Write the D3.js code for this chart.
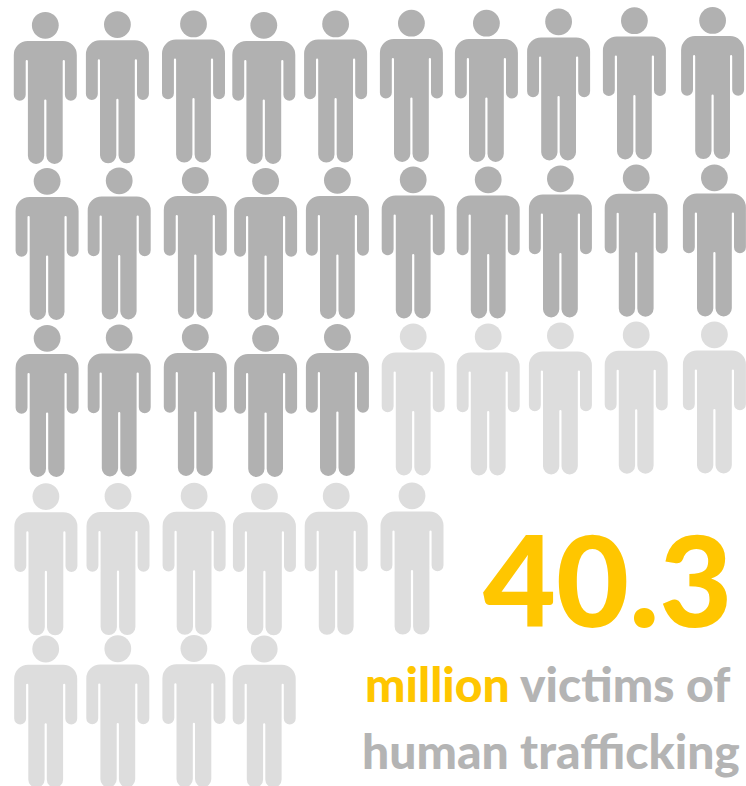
<!DOCTYPE html>
<html>
<head>
<meta charset="utf-8">
<script src="https://cdn.jsdelivr.net/npm/d3@7/dist/d3.min.js"></script>
<style>
  html, body { margin: 0; padding: 0; background: #fff; }
  svg { display: block; }
  text { font-family: Lato, "Open Sans", sans-serif; font-weight: 900; }
</style>
</head>
<body>
<svg id="chart" width="746" height="786"></svg>
<script>
// Each figure stands for one million people; the two tones split the total.
const groups = ["first", "second"];
const groupCounts = [25, 15];
const rowLengths = [10, 10, 10, 6, 4];
const headline = "40.3";
const unitLabel = "million";
const lineOneRest = "victims of";
const lineTwo = "human trafficking";

const width = 746, height = 786;
const svg = d3.select("#chart").attr("viewBox", [0, 0, width, height]);

// Pictogram grid: hand-spaced columns and rows, set as ordinal scales.
const columnIds = d3.range(10);
const rowIds = d3.range(rowLengths.length);
const columnX = d3.scaleOrdinal(columnIds, [46.3, 118.4, 194.5, 264.8, 336.6, 412.4, 487.4, 559.6, 635.4, 713.6]);
const columnLift = d3.scaleOrdinal(columnIds, [0, -0.5, -1, 0, -1, -1.5, -1.5, -2.5, -3.3, -3.5]);
const rowTop = d3.scaleOrdinal(rowIds, [12, 168, 325, 483.3, 635.7]);
const rowLiftFactor = d3.scaleOrdinal(rowIds, [1.4, 1, 1, 0.5, 0.5]);
const rowNudge = d3.scaleOrdinal(rowIds, [-1, 0.8, 0.8, -0.4, -0.6]);
const tone = d3.scaleOrdinal(groups, ["#b1b1b1", "#dddddd"]);

// Flatten rows into figures, handing out the groups in reading order.
const groupOfIndex = groups.flatMap((g, i) => d3.range(groupCounts[i]).map(() => g));
let running = 0;
const figures = rowLengths.flatMap((len, row) => d3.range(len).map(col => ({
  row, col, group: groupOfIndex[running++]
})));

// One person glyph, origin at the top of the head on the centre line.
function personBody() {
  const p = d3.path();
  const top = 29, half = 31.5, armIn = 19.6, torso = 17.4, gap = 1.1;
  const armpit = 48, armEnd = 88.7, crotch = 87.5, foot = 152;
  const armR = (half - armIn) / 2, legR = (torso - gap) / 2, cornerR = 14;
  const slit = (armIn - torso) / 2;
  p.moveTo(-half + cornerR, top);
  p.lineTo(half - cornerR, top);
  p.arcTo(half, top, half, top + cornerR, cornerR);
  p.lineTo(half, armEnd - armR);
  p.arc(half - armR, armEnd - armR, armR, 0, Math.PI);
  p.lineTo(armIn, armpit + slit);
  p.arc(armIn - slit, armpit + slit, slit, 0, Math.PI, true);
  p.lineTo(torso, foot - legR);
  p.arc(gap + legR, foot - legR, legR, 0, Math.PI);
  p.lineTo(gap, crotch + gap);
  p.arc(0, crotch + gap, gap, 0, Math.PI, true);
  p.lineTo(-gap, foot - legR);
  p.arc(-gap - legR, foot - legR, legR, 0, Math.PI);
  p.lineTo(-torso, armpit + slit);
  p.arc(-torso - slit, armpit + slit, slit, 0, Math.PI, true);
  p.lineTo(-armIn, armEnd - armR);
  p.arc(-half + armR, armEnd - armR, armR, 0, Math.PI);
  p.lineTo(-half, top + cornerR);
  p.arcTo(-half, top, -half + cornerR, top, cornerR);
  p.closePath();
  return p.toString();
}
const bodyPath = personBody();

const person = svg.append("g").selectAll("g")
  .data(figures)
  .join("g")
  .attr("transform", d => {
    const x = columnX(d.col) + rowNudge(d.row);
    const y = rowTop(d.row) + columnLift(d.col) * rowLiftFactor(d.row);
    return `translate(${x},${y})`;
  })
  .attr("fill", d => tone(d.group));
person.append("circle").attr("cy", 13.3).attr("r", 13.4);
person.append("path").attr("d", bodyPath);

// Headline figure and its two-line caption.
svg.append("text")
  .attr("x", 483).attr("y", 627)
  .attr("font-size", 126)
  .attr("fill", "#ffc600")
  .text(headline);

const caption = svg.append("text")
  .attr("x", 365).attr("y", 702)
  .attr("font-size", 48)
  .attr("fill", "#b4b4b4");
caption.append("tspan").attr("fill", "#ffc600").text(unitLabel);
caption.append("tspan").text(" " + lineOneRest);

svg.append("text")
  .attr("x", 362).attr("y", 769)
  .attr("font-size", 48)
  .attr("fill", "#b4b4b4")
  .text(lineTwo);
</script>
</body>
</html>
